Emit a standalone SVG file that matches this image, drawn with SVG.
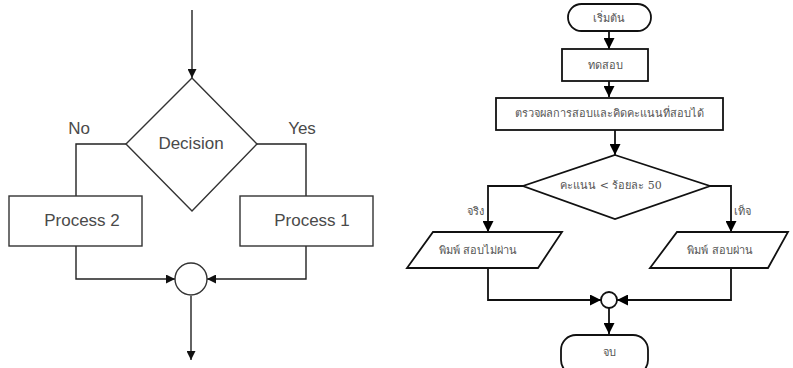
<svg xmlns="http://www.w3.org/2000/svg" width="793" height="368" viewBox="0 0 793 368">
<style>
.l{fill:none;stroke:#222;stroke-width:1.4}
.r{fill:none;stroke:#111;stroke-width:1.8}
.sh{fill:#fff;stroke:#333;stroke-width:1.4}
.shr{fill:#fff;stroke:#111;stroke-width:1.8}
.t{font-family:"Liberation Sans",Arial,sans-serif;fill:#4a4a4a;text-anchor:middle;font-size:17px}
.th{font-family:"DejaVu Serif","Noto Sans","Liberation Serif",serif;fill:#555;text-anchor:middle;font-size:11px}
</style>
<defs>
<marker id="a" viewBox="0 0 10 10" refX="10" refY="5" markerWidth="9" markerHeight="9" markerUnits="userSpaceOnUse" orient="auto"><path d="M0,0L10,5L0,10z" fill="#111"/></marker>
<marker id="b" viewBox="0 0 10 10" refX="10" refY="5" markerWidth="11" markerHeight="11" markerUnits="userSpaceOnUse" orient="auto"><path d="M0,0L10,5L0,10z" fill="#000"/></marker>
</defs>
<rect width="793" height="368" fill="#fff"/>
<g id="connectors">
<path class="l" d="M192,10V78" marker-end="url(#a)"/>
<path class="l" d="M126,144H76V196"/>
<path class="l" d="M257,144H306V196"/>
<path class="l" d="M76,246V279H175" marker-end="url(#a)"/>
<path class="l" d="M306,246V279H207" marker-end="url(#a)"/>
<path class="l" d="M191,296V360" marker-end="url(#a)"/>
<path class="r" d="M609,31V49" marker-end="url(#b)"/>
<path class="r" d="M609,81V97" marker-end="url(#b)"/>
<path class="r" d="M615,130V155" marker-end="url(#b)"/>
<path class="r" d="M523,186H488V232" marker-end="url(#b)"/>
<path class="r" d="M710,186H731V232" marker-end="url(#b)"/>
<path class="r" d="M488,268V300H601" marker-end="url(#b)"/>
<path class="r" d="M731,268V300H617" marker-end="url(#b)"/>
<path class="r" d="M609,308V334" marker-end="url(#b)"/>
<text class="t" x="79" y="134">No</text>
<text class="t" x="302" y="134">Yes</text>
<text class="th" x="475" y="215">จริง</text>
<text class="th" x="742" y="215">เท็จ</text>
</g>
<g id="decision">
<path class="sh" d="M192,78L257,144L192,211L126,144Z"/>
<text class="t" x="191" y="149">Decision</text>
</g>
<g id="process2">
<rect class="sh" x="9" y="196" width="133" height="50"/>
<text class="t" x="82" y="226">Process 2</text>
</g>
<g id="process1">
<rect class="sh" x="240" y="196" width="133" height="50"/>
<text class="t" x="312" y="226">Process 1</text>
</g>
<g id="merge1">
<circle class="sh" cx="191" cy="279" r="16"/>
</g>
<g id="start">
<rect class="shr" x="568" y="4" width="83" height="27" rx="13.5"/>
<text class="th" x="609" y="22">เริ่มต้น</text>
</g>
<g id="test">
<rect class="shr" x="562" y="49" width="86" height="32"/>
<text class="th" x="605" y="69">ทดสอบ</text>
</g>
<g id="check">
<rect class="shr" x="496" y="98" width="227" height="32"/>
<text class="th" x="609" y="117">ตรวจผลการสอบและคิดคะแนนที่สอบได้</text>
</g>
<g id="cond">
<path class="shr" d="M615,155L710,186L615,219L523,186Z"/>
<text class="th" x="611" y="189">คะแนน &lt; ร้อยละ 50</text>
</g>
<g id="fail">
<path class="shr" d="M433,232H562L538,268H407Z"/>
<text class="th" x="478" y="254">พิมพ์  สอบไม่ผ่าน</text>
</g>
<g id="pass">
<path class="shr" d="M677,232H788L768,268H650Z"/>
<text class="th" x="720" y="254">พิมพ์ สอบผ่าน</text>
</g>
<g id="merge2">
<circle class="shr" cx="609" cy="300" r="8"/>
</g>
<g id="end">
<rect class="shr" x="561" y="335" width="87" height="40" rx="15"/>
<text class="th" x="609" y="356">จบ</text>
</g>
</svg>
